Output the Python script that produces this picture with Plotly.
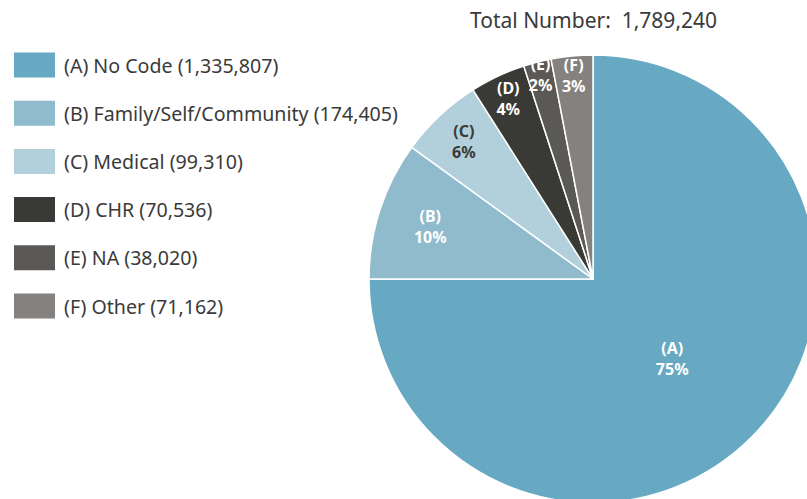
import plotly.graph_objects as go

# categories, counts (legend) and the percentages the slices are drawn from
codes = ["A", "B", "C", "D", "E", "F"]
names = ["No Code", "Family/Self/Community", "Medical", "CHR", "NA", "Other"]
counts = [1335807, 174405, 99310, 70536, 38020, 71162]
pct = [75, 10, 6, 4, 2, 3]

colors = ["#67a9c2", "#8fbbcd", "#b1d0dc", "#393935", "#5b5955", "#85817e"]
label_colors = ["#ffffff", "#ffffff", "#3a3a36", "#ffffff", "#ffffff", "#ffffff"]

# figure is a bit bigger than the window so the pie gets cropped like the original
W, H = 830, 510
cx, cy, r = 593, 279, 224

fig = go.Figure(go.Pie(
    labels=["(%s)" % c for c in codes],
    values=pct,
    text=["%d%%" % p for p in pct],
    texttemplate="<b>%{label}<br>%{text}</b>",
    textposition="inside",
    insidetextorientation="horizontal",
    textfont=dict(family="Noto Sans", size=16, color=label_colors),
    marker=dict(colors=colors, line=dict(color="white", width=1.5)),
    sort=False,
    direction="clockwise",
    rotation=0,
    showlegend=False,
    hoverinfo="label+text",
    domain=dict(x=[(cx - r) / W, (cx + r) / W], y=[1 - (cy + r) / H, 1 - (cy - r) / H]),
))

# legend drawn by hand: big swatches + text
shapes = []
annotations = []
for i, (c, n, v) in enumerate(zip(codes, names, counts)):
    yc = 65 + i * 48.2
    shapes.append(dict(type="rect", xref="paper", yref="paper",
                       x0=14 / W, x1=55 / W, y0=1 - (yc + 12.5) / H, y1=1 - (yc - 12.5) / H,
                       fillcolor=colors[i], line=dict(width=0)))
    annotations.append(dict(text="(%s) %s (%s)" % (c, n, f"{v:,}"), xref="paper", yref="paper",
                            x=62 / W, y=1 - yc / H, xanchor="left", yanchor="middle",
                            showarrow=False, font=dict(family="Noto Sans", size=19.6, color="#3a3a3a")))

total = sum(counts)
annotations.append(dict(text="Total Number:  %s" % f"{total:,}", xref="paper", yref="paper",
                        x=cx / W, y=1 - 20 / H, xanchor="center", yanchor="middle",
                        showarrow=False, font=dict(family="Noto Sans", size=21, color="#3a3a3a")))

fig.update_layout(
    width=W, height=H,
    margin=dict(l=0, r=0, t=0, b=0),
    paper_bgcolor="white",
    plot_bgcolor="white",
    shapes=shapes,
    annotations=annotations,
    uniformtext=dict(minsize=16, mode="show"),
)

fig.write_html("out.html", config={"displayModeBar": False},
               post_script="document.body.style.margin='0';document.body.style.overflow='hidden';")
